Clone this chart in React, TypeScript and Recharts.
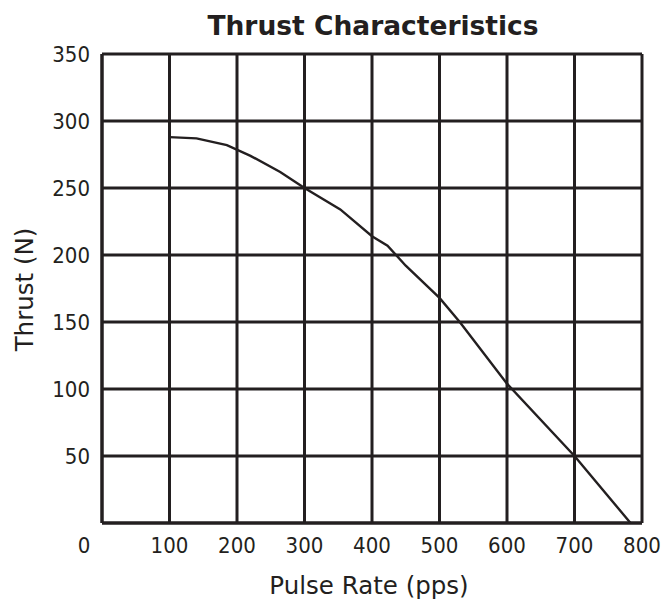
import React from "react";
import { LineChart, Line, XAxis, YAxis, CartesianGrid } from "recharts";

const pulseRate = [100, 140, 185, 220, 264, 300, 353, 400, 423, 450, 500, 530, 600, 700, 783];
const thrust = [288, 287, 282, 274, 262, 250, 234, 214, 207, 192, 168, 150, 104, 50, 0];
const xTicks = [0, 100, 200, 300, 400, 500, 600, 700, 800];
const yTicks = [0, 50, 100, 150, 200, 250, 300, 350];

const data = pulseRate.map((x, i) => ({ x, thrust: thrust[i] }));

const INK = "#231f20";
const TICK_FONT = "'DejaVu Sans Condensed', 'DejaVu Sans', sans-serif";
const TITLE_FONT = "'DejaVu Sans', sans-serif";

const XTick = (props: any) => {
  const { x, y, payload } = props;
  const shift = payload.value === 0 ? -18 : 0;
  return (
    <text
      x={x + shift}
      y={y}
      dy="0.71em"
      textAnchor="middle"
      fill={INK}
      fontSize={22}
      fontFamily={TICK_FONT}
    >
      {payload.value}
    </text>
  );
};

const YTick = (props: any) => {
  const { x, y, payload } = props;
  if (payload.value === 0) return <g />;
  return (
    <text
      x={x}
      y={y}
      dy="0.355em"
      textAnchor="end"
      fill={INK}
      fontSize={22}
      fontFamily={TICK_FONT}
    >
      {payload.value}
    </text>
  );
};

const YTitle = (props: any) => {
  const vb = props.viewBox || { x: 0, y: 54, width: 102, height: 469 };
  const cx = 24;
  const cy = vb.y + vb.height / 2 + 1;
  return (
    <text
      x={cx}
      y={cy}
      transform={`rotate(-90 ${cx} ${cy})`}
      textAnchor="middle"
      dy="0.355em"
      fill={INK}
      fontSize={24.5}
      fontFamily={TITLE_FONT}
    >
      Thrust (N)
    </text>
  );
};

const XTitle = (props: any) => {
  const vb = props.viewBox || { x: 102, y: 523, width: 540, height: 76 };
  const cx = vb.x + vb.width / 2 - 3;
  return (
    <text
      x={cx}
      y={594}
      textAnchor="middle"
      fill={INK}
      fontSize={24.5}
      fontFamily={TITLE_FONT}
    >
      Pulse Rate (pps)
    </text>
  );
};

export default function App() {
  return (
    <div style={{ position: "absolute", left: 0, top: 0, width: 663, height: 599, background: "#fff" }}>
      <LineChart
        width={663}
        height={599}
        data={data}
        margin={{ top: 54, right: 21, bottom: 0, left: 0 }}
      >
        <text
          x={373}
          y={35}
          textAnchor="middle"
          fill={INK}
          fontSize={26.5}
          fontWeight={700}
          fontFamily="'DejaVu Sans', sans-serif"
        >
          Thrust Characteristics
        </text>
        <CartesianGrid stroke={INK} strokeWidth={3} horizontalValues={yTicks} verticalValues={xTicks} />
        <XAxis
          type="number"
          dataKey="x"
          domain={[0, 800]}
          ticks={xTicks}
          interval={0}
          height={76}
          tickLine={false}
          tickSize={6}
          tickMargin={8}
          axisLine={{ stroke: INK, strokeWidth: 3 }}
          tick={<XTick />}
          label={<XTitle />}
        />
        <YAxis
          type="number"
          domain={[0, 350]}
          ticks={yTicks}
          interval={0}
          width={102}
          tickLine={false}
          tickSize={6}
          tickMargin={6}
          axisLine={{ stroke: INK, strokeWidth: 3 }}
          tick={<YTick />}
          label={<YTitle />}
        />
        <Line
          type="linear"
          dataKey="thrust"
          stroke={INK}
          strokeWidth={2.4}
          dot={false}
          activeDot={false}
          isAnimationActive={false}
        />
      </LineChart>
    </div>
  );
}
